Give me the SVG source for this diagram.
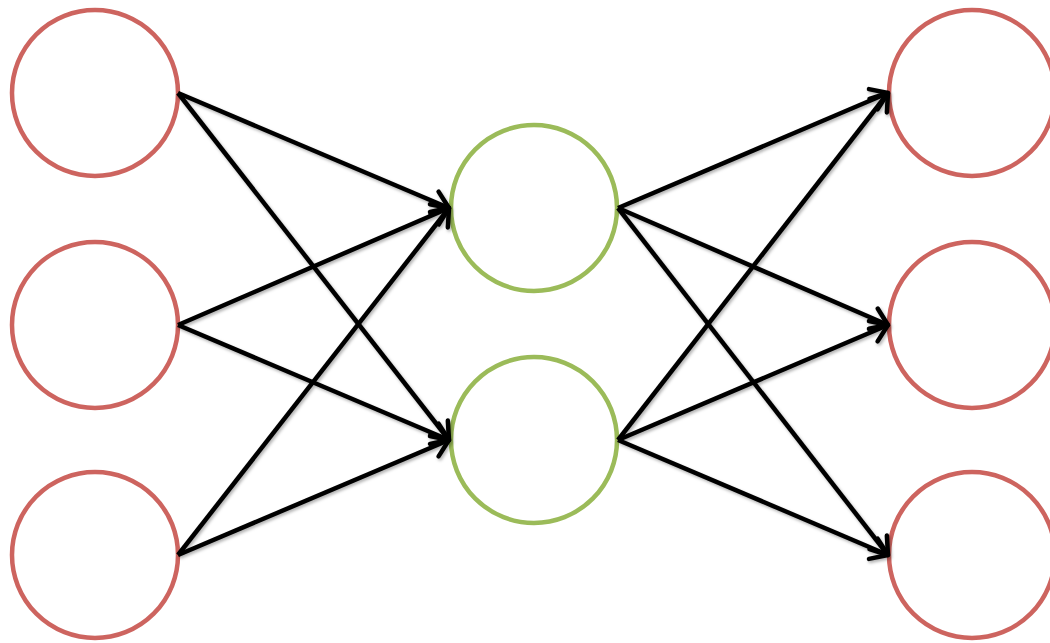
<svg xmlns="http://www.w3.org/2000/svg" width="1050" height="643" viewBox="0 0 1050 643">
  <defs>
    <marker id="arr" viewBox="-25 -18 30 36" refX="0" refY="0" markerWidth="30" markerHeight="36" markerUnits="userSpaceOnUse" orient="auto">
      <path d="M-16,-11 L0,0 L-16,11" fill="none" stroke="#000" stroke-width="4.5" stroke-linecap="round" stroke-linejoin="round"/>
    </marker>
    <filter id="sh" x="-10%" y="-10%" width="120%" height="120%">
      <feDropShadow dx="1.5" dy="2" stdDeviation="1.5" flood-color="#000" flood-opacity="0.3"/>
    </filter>
  </defs>
  <style>
    .red { fill: #fff; stroke: #cd645f; stroke-width: 4.5; }
    .green { fill: #fff; stroke: #9bbb59; stroke-width: 4.5; }
    .edge { fill: none; stroke: #000; stroke-width: 4.5; stroke-linecap: butt; marker-end: url(#arr); }
  </style>
  <rect width="1050" height="643" fill="#fff"/>
  <g id="in1"><circle class="red" cx="95" cy="93" r="83"/></g>
  <g id="in2"><circle class="red" cx="95" cy="325" r="83"/></g>
  <g id="in3"><circle class="red" cx="95" cy="555" r="83"/></g>
  <g id="h1"><circle class="green" cx="534" cy="208" r="83"/></g>
  <g id="h2"><circle class="green" cx="534" cy="440" r="83"/></g>
  <g id="out1"><circle class="red" cx="972" cy="93" r="83"/></g>
  <g id="out2"><circle class="red" cx="972" cy="325" r="83"/></g>
  <g id="out3"><circle class="red" cx="972" cy="555" r="83"/></g>
  <g id="connectors" filter="url(#sh)">
    <line class="edge" x1="178" y1="93" x2="449" y2="208"/>
    <line class="edge" x1="178" y1="93" x2="449" y2="440"/>
    <line class="edge" x1="178" y1="325" x2="449" y2="208"/>
    <line class="edge" x1="178" y1="325" x2="449" y2="440"/>
    <line class="edge" x1="178" y1="555" x2="449" y2="208"/>
    <line class="edge" x1="178" y1="555" x2="449" y2="440"/>
    <line class="edge" x1="618" y1="208" x2="888" y2="93"/>
    <line class="edge" x1="618" y1="208" x2="888" y2="325"/>
    <line class="edge" x1="618" y1="208" x2="888" y2="555"/>
    <line class="edge" x1="618" y1="440" x2="888" y2="93"/>
    <line class="edge" x1="618" y1="440" x2="888" y2="325"/>
    <line class="edge" x1="618" y1="440" x2="888" y2="555"/>
  </g>
</svg>
